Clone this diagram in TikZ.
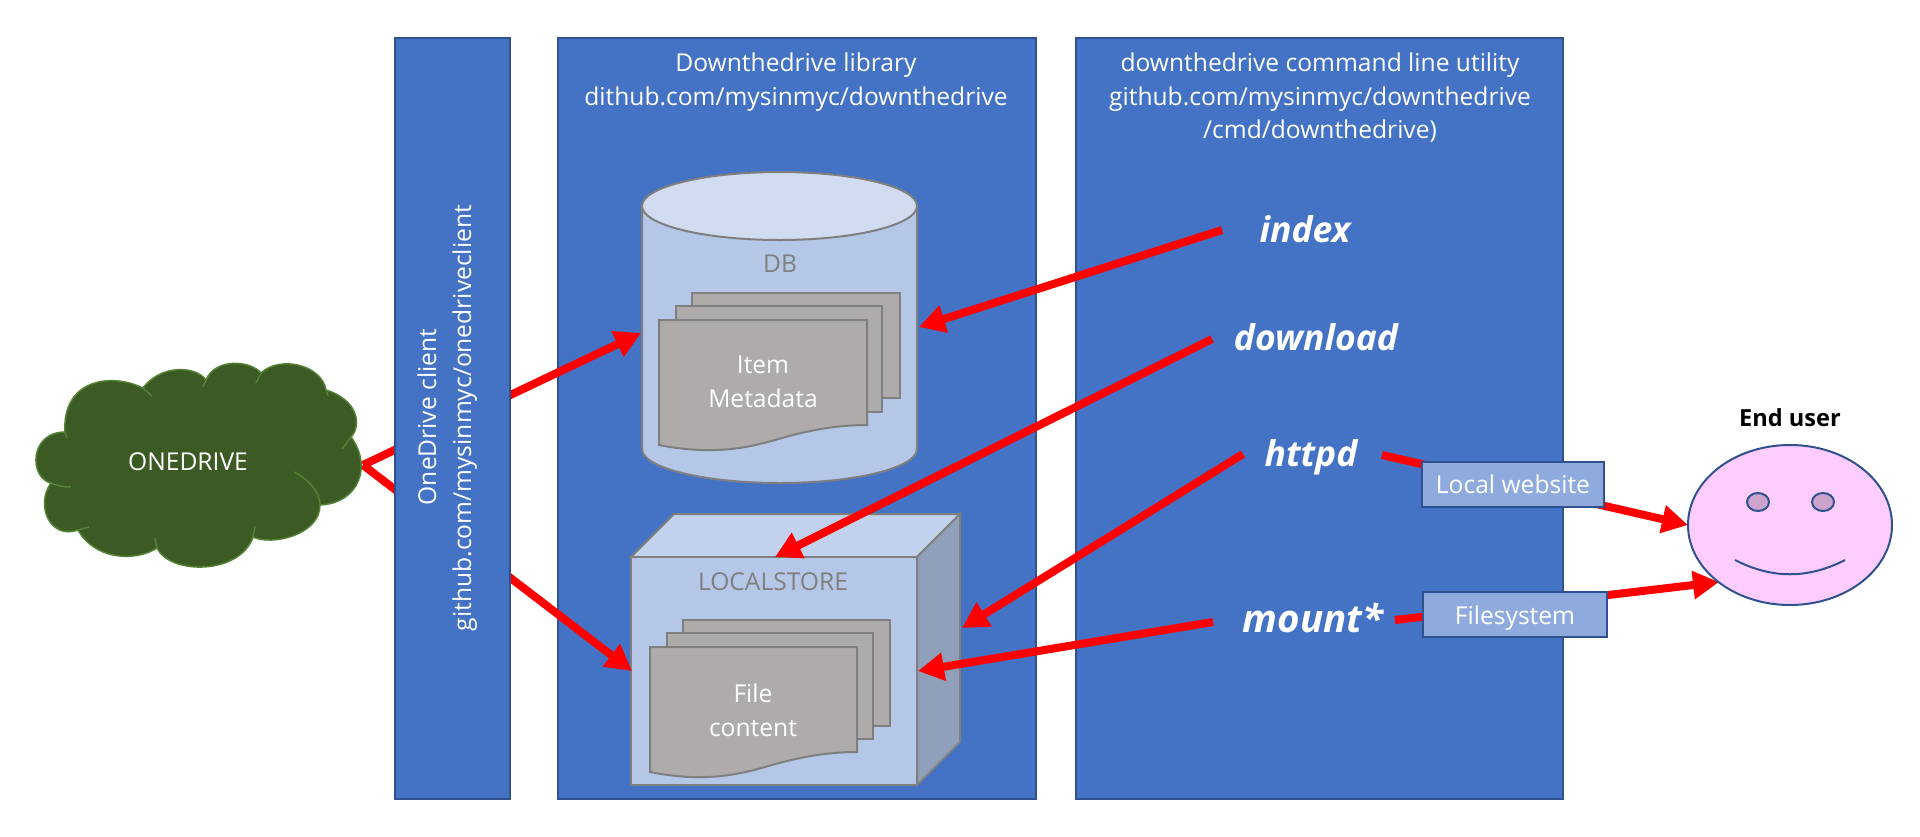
\documentclass[tikz,border=0pt]{standalone}
\usepackage{fontspec}
\setmainfont{Open Sans}
\usetikzlibrary{arrows.meta}
\definecolor{panelblue}{HTML}{4472C4}
\definecolor{paneledge}{HTML}{2F528F}
\definecolor{storefill}{HTML}{B4C7E7}
\definecolor{storetop}{HTML}{D2DCF0}
\definecolor{cubetop}{HTML}{C3D2EC}
\definecolor{cubeside}{HTML}{90A0BA}
\definecolor{grayedge}{HTML}{7F7F7F}
\definecolor{pagefill}{HTML}{AFABAB}
\definecolor{cloudfill}{HTML}{3B5A24}
\definecolor{cloudedge}{HTML}{548235}
\definecolor{lightbox}{HTML}{8FAADC}
\definecolor{facefill}{HTML}{FFCCFF}
\definecolor{eyefill}{HTML}{CCA3CC}
\tikzset{
  panel/.style={draw=paneledge,fill=panelblue,line width=2pt,inner sep=0pt,outer sep=0pt,anchor=north west},
  storeline/.style={draw=grayedge,line width=2pt},
  pagesheet/.style={draw=grayedge,fill=pagefill,line width=2pt,inner sep=0pt,outer sep=0pt,anchor=north west},
  lbl/.style={text=white,font=\fontsize{24.6}{33}\selectfont,inner sep=0pt,anchor=base},
  graylbl/.style={text=grayedge,font=\fontsize{24.6}{33}\selectfont,inner sep=0pt,anchor=base},
  cmd/.style={text=white,font=\fontsize{35.5}{40}\selectfont\bfseries\itshape,inner sep=0pt,anchor=base},
  redarrow/.style={draw=red,line width=8pt,-{Triangle[length=26pt,width=27pt]}},
  smallbox/.style={draw=paneledge,fill=lightbox,line width=2pt,inner sep=0pt,outer sep=0pt,anchor=north west},
  faceline/.style={draw=paneledge,line width=2pt},
  cloudtail/.style={draw=cloudedge,line width=1.5pt}
}
\begin{document}
\begin{tikzpicture}[x=1pt,y=-1pt]
\useasboundingbox (0,0) rectangle (1920,836);
% connector ends
\coordinate (cloudTip) at (363,465);
\coordinate (dbLeft) at (641,333);
\coordinate (storeLeft) at (632,671);
\coordinate (dbRight) at (919,327);
\coordinate (storeTop) at (775,557);
\coordinate (storeSide) at (962,628);
\coordinate (storeFront) at (918,671);
\coordinate (indexTail) at (1222,230);
\coordinate (downloadTail) at (1212,339);
\coordinate (httpdTail) at (1243,454);
\coordinate (mountTail) at (1213,622);
\coordinate (httpdOut) at (1382,455);
\coordinate (mountOut) at (1395,620);
\coordinate (faceLeft) at (1688,525);
\coordinate (faceLow) at (1719,582);
% panels
\node[panel,minimum width=478pt,minimum height=761pt] (libPanel) at (557.5,38) {};
\node[panel,minimum width=487pt,minimum height=761pt] (cliPanel) at (1076,38) {};
% cylinder
\path[storeline,fill=storefill] (642,206) -- (642,449) arc[start angle=180,end angle=0,x radius=137.5,y radius=34] -- (917,206) -- cycle;
\path[storeline,fill=storetop] (779.5,206) ellipse[x radius=137.5,y radius=34];
\node[graylbl] (dbLabel) at (780,272) {DB};
\node[pagesheet,minimum width=208pt,minimum height=105pt] (dbSheetA) at (692,293) {};
\node[pagesheet,minimum width=206pt,minimum height=106pt] (dbSheetB) at (676,306) {};
\path[pagesheet] (659,320) -- (867,320) -- (867,425) .. controls (835,425) and (805,431) .. (775,440) .. controls (750,447) and (715,456) .. (659,445) -- cycle;
\node[lbl] (dbItem) at (763,373) {Item};
\node[lbl] (dbMeta) at (763,407) {Metadata};
% cube
\path[storeline,fill=cubetop] (631,557) -- (674,514) -- (960,514) -- (917,557) -- cycle;
\path[storeline,fill=cubeside] (917,557) -- (960,514) -- (960,742) -- (917,785) -- cycle;
\node[storeline,fill=storefill,inner sep=0pt,outer sep=0pt,anchor=north west,minimum width=286pt,minimum height=228pt] (cubeFront) at (631,557) {};
\node[graylbl] (storeLabel) at (773,590) {LOCALSTORE};
\node[pagesheet,minimum width=207pt,minimum height=106pt] (fileSheetA) at (683,620) {};
\node[pagesheet,minimum width=206pt,minimum height=106pt] (fileSheetB) at (667,633) {};
\path[pagesheet] (650,647) -- (857,647) -- (857,752) .. controls (825,752) and (795,758) .. (765,767) .. controls (740,774) and (705,783) .. (650,772) -- cycle;
\node[lbl] (fileWord) at (753,702) {File};
\node[lbl] (contentWord) at (753,736) {content};
% command arrows
\draw[redarrow] (cloudTip) -- (dbLeft);
\draw[redarrow] (cloudTip) -- (storeLeft);
\draw[redarrow] (indexTail) -- (dbRight);
\draw[redarrow] (downloadTail) -- (storeTop);
\draw[redarrow] (httpdTail) -- (storeSide);
\draw[redarrow] (mountTail) -- (storeFront);
% client panel over the cloud arrows
\node[panel,minimum width=115pt,minimum height=761pt] (clientPanel) at (395,38) {};
\node[lbl,rotate=90] (clientA) at (436,417) {OneDrive client};
\node[lbl,rotate=90] (clientB) at (471,418) {github.com/mysinmyc/onedriveclient};
% cloud
\path[draw=cloudedge,fill=cloudfill,line width=1.5pt] (65,432)
  .. controls (29,432) and (29,478) .. (51,483)
  .. controls (35,505) and (50,540) .. (78,530)
  .. controls (95,560) and (135,562) .. (157,548)
  .. controls (170,575) and (240,575) .. (253,537)
  .. controls (272,546) and (320,535) .. (320,505)
  .. controls (360,503) and (372,465) .. (351,437)
  .. controls (362,425) and (358,400) .. (326,390)
  .. controls (322,365) and (280,355) .. (261,373)
  .. controls (250,360) and (215,358) .. (206,380)
  .. controls (195,365) and (160,365) .. (143,388)
  .. controls (110,372) and (62,380) .. (65,432) -- cycle;
\draw[cloudtail] (65,432) -- (67,438);
\draw[cloudtail] (51,483) .. controls (57,486) and (64,487) .. (71,487);
\draw[cloudtail] (78,530) -- (89,527);
\draw[cloudtail] (157,548) -- (155,538);
\draw[cloudtail] (253,537) -- (255,526);
\draw[cloudtail] (320,505) .. controls (320,493) and (310,480) .. (294,472);
\draw[cloudtail] (351,437) -- (342,449);
\draw[cloudtail] (326,390) -- (328,396);
\draw[cloudtail] (261,373) -- (256,383);
\draw[cloudtail] (206,380) -- (203,387);
\draw[cloudtail] (143,388) -- (152,396);
\node[lbl] (cloudLabel) at (188,470) {ONEDRIVE};
% panel texts
\node[lbl] (libA) at (796,71) {Downthedrive library};
\node[lbl] (libB) at (796,105) {dithub.com/mysinmyc/downthedrive};
\node[lbl] (cliA) at (1320,71) {downthedrive command line utility};
\node[lbl] (cliB) at (1320,105) {github.com/mysinmyc/downthedrive};
\node[lbl] (cliC) at (1320,138) {/cmd/downthedrive)};
\node[cmd] (cmdIndex) at (1305,242) {index};
\node[cmd] (cmdDownload) at (1316,350) {download};
\node[cmd] (cmdHttpd) at (1311,466) {httpd};
\node[cmd,font=\fontsize{38.5}{40}\selectfont\bfseries\itshape] (cmdMount) at (1313,632) {mount*};
% end user
\draw[redarrow] (httpdOut) -- (faceLeft);
\draw[redarrow] (mountOut) -- (faceLow);
\node[smallbox,minimum width=182pt,minimum height=45pt] (websiteBox) at (1422,462) {};
\node[smallbox,minimum width=184pt,minimum height=45pt] (fsBox) at (1423,592) {};
\node[lbl] (websiteWord) at (1513,493) {Local website};
\node[lbl] (fsWord) at (1515,624) {Filesystem};
\path[faceline,fill=facefill] (1790,525) ellipse[x radius=102,y radius=80];
\path[faceline,fill=eyefill] (1758,502) ellipse[x radius=11,y radius=9];
\path[faceline,fill=eyefill] (1823,502) ellipse[x radius=11,y radius=9];
\draw[faceline] (1735,560) .. controls (1772,579) and (1808,579) .. (1845,560);
\node[inner sep=0pt,anchor=base,font=\fontsize{23.6}{28}\selectfont\bfseries] (endUser) at (1790,426) {End user};
\end{tikzpicture}
\end{document}
